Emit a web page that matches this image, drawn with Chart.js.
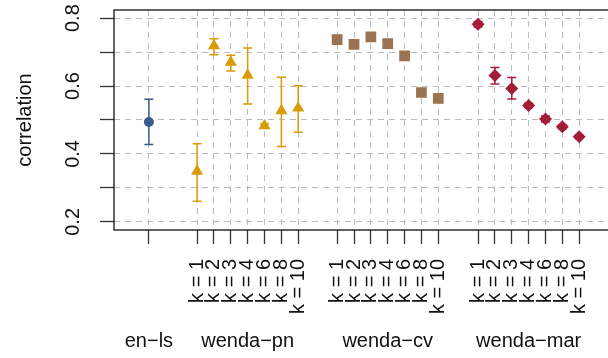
<!DOCTYPE html>
<html>
<head>
<meta charset="utf-8">
<script src="https://cdn.jsdelivr.net/npm/chart.js@4.4.0/dist/chart.umd.min.js"></script>
<style>
  html, body { margin: 0; padding: 0; background: #fff; overflow: hidden; }
  #wrap { width: 620px; height: 358px; }
</style>
</head>
<body>
<div id="wrap"><canvas id="corrChart" width="620" height="358"></canvas></div>
<script>
// methodes et valeurs de k
const groups = ["en\u2212ls", "wenda\u2212pn", "wenda\u2212cv", "wenda\u2212mar"];
const kValues = [1, 2, 3, 4, 6, 8, 10];

// correlation moyenne + bornes des barres d'erreur
const enlsMean = [0.494];
const enlsLow = [0.428];
const enlsHigh = [0.561];

const pnMean = [0.349, 0.719, 0.670, 0.632, 0.483, 0.527, 0.535];
const pnLow = [0.261, 0.692, 0.644, 0.547, 0.477, 0.422, 0.464];
const pnHigh = [0.430, 0.739, 0.691, 0.712, 0.489, 0.626, 0.601];

const cvMean = [0.737, 0.723, 0.745, 0.725, 0.689, 0.581, 0.564];
const cvLow = [0.732, 0.717, 0.740, 0.720, 0.683, 0.575, 0.559];
const cvHigh = [0.742, 0.729, 0.750, 0.730, 0.695, 0.587, 0.569];

const marMean = [0.782, 0.631, 0.593, 0.543, 0.503, 0.480, 0.451];
const marLow = [0.774, 0.606, 0.562, 0.537, 0.494, 0.474, 0.447];
const marHigh = [0.790, 0.655, 0.625, 0.549, 0.512, 0.486, 0.455];

const yGrid = [0.2, 0.3, 0.4, 0.5, 0.6, 0.7, 0.8];
const yLabels = ["0.2", "0.4", "0.6", "0.8"];
const kLabels = kValues.map((k) => "k = " + k);

// mise en page de l'axe x (debut de chaque groupe)
const groupStart = [0, 2.86, 11.17, 19.53];
const fontFamily = '"Liberation Sans", Arial, Helvetica, sans-serif';

function points(g, means) {
  return means.map((v, i) => ({ x: groupStart[g] + i, y: v }));
}

const xTicks = [];
const xTickLabels = [];
[enlsMean, pnMean, cvMean, marMean].forEach((means, g) => {
  means.forEach((v, i) => {
    xTicks.push(groupStart[g] + i);
    xTickLabels.push(g === 0 ? "" : kLabels[i]);
  });
});

// barres d'erreur, cadre et textes tournes
const decorations = {
  id: "decorations",
  beforeDatasetsDraw(chart) {
    const ctx = chart.ctx;
    const xs = chart.scales.x;
    const ys = chart.scales.y;
    chart.data.datasets.forEach((ds) => {
      ctx.save();
      ctx.strokeStyle = ds.borderColor;
      ctx.lineWidth = 1.5;
      ds.data.forEach((p, i) => {
        const px = xs.getPixelForValue(p.x);
        const top = ys.getPixelForValue(ds.high[i]);
        const bot = ys.getPixelForValue(ds.low[i]);
        ctx.beginPath();
        ctx.moveTo(px, top);
        ctx.lineTo(px, bot);
        ctx.moveTo(px - 4.5, top);
        ctx.lineTo(px + 4.5, top);
        ctx.moveTo(px - 4.5, bot);
        ctx.lineTo(px + 4.5, bot);
        ctx.stroke();
      });
      ctx.restore();
    });
  },
  afterDraw(chart) {
    const ctx = chart.ctx;
    const area = chart.chartArea;
    const xs = chart.scales.x;
    const ys = chart.scales.y;
    ctx.save();
    ctx.strokeStyle = "#222";
    ctx.lineWidth = 1.4;
    ctx.strokeRect(area.left, area.top, area.right - area.left, area.bottom - area.top);

    ctx.fillStyle = "#111";
    ctx.font = "20px " + fontFamily;
    ctx.textAlign = "center";
    ctx.textBaseline = "middle";
    yLabels.forEach((lab) => {
      const py = ys.getPixelForValue(parseFloat(lab));
      ctx.save();
      ctx.translate(73.5, py);
      ctx.rotate(-Math.PI / 2);
      ctx.fillText(lab, 0, 0);
      ctx.restore();
    });

    const groupMeans = [enlsMean, pnMean, cvMean, marMean];
    groups.forEach((name, g) => {
      const n = groupMeans[g].length;
      const cx = xs.getPixelForValue(groupStart[g] + (n - 1) / 2);
      ctx.fillText(name, cx, 341);
    });
    ctx.restore();
  },
};

new Chart(document.getElementById("corrChart"), {
  type: "scatter",
  data: {
    datasets: [
      {
        label: groups[0],
        data: points(0, enlsMean),
        low: enlsLow,
        high: enlsHigh,
        pointStyle: "circle",
        pointRadius: 5,
        backgroundColor: "#3d5a8c",
        borderColor: "#3d5a8c",
        borderWidth: 0,
      },
      {
        label: groups[1],
        data: points(1, pnMean),
        low: pnLow,
        high: pnHigh,
        pointStyle: "triangle",
        pointRadius: 7,
        backgroundColor: "#d99b06",
        borderColor: "#d99b06",
        borderWidth: 0,
      },
      {
        label: groups[2],
        data: points(2, cvMean),
        low: cvLow,
        high: cvHigh,
        pointStyle: "rect",
        pointRadius: 7.6,
        backgroundColor: "#9b7352",
        borderColor: "#9b7352",
        borderWidth: 0,
      },
      {
        label: groups[3],
        data: points(3, marMean),
        low: marLow,
        high: marHigh,
        pointStyle: "rectRot",
        pointRadius: 6.5,
        backgroundColor: "#a31d3b",
        borderColor: "#a31d3b",
        borderWidth: 0,
      },
    ],
  },
  options: {
    responsive: false,
    animation: false,
    events: [],
    layout: { padding: { left: 0, top: 10, right: 6, bottom: 0 } },
    plugins: {
      legend: { display: false },
      tooltip: { enabled: false },
    },
    scales: {
      x: {
        type: "linear",
        min: -2.07,
        max: 27.5,
        afterBuildTicks: (scale) => {
          scale.ticks = xTicks.map((v) => ({ value: v }));
        },
        afterFit: (scale) => {
          scale.height = 128;
        },
        ticks: {
          autoSkip: false,
          minRotation: 90,
          maxRotation: 90,
          padding: 15,
          color: "#111",
          font: { family: fontFamily, size: 20 },
          callback: (value, index) => xTickLabels[index],
        },
        grid: {
          color: "#bcbcbc",
          lineWidth: 1,
          tickLength: 14,
          tickColor: "#333",
          tickWidth: 1.3,
          tickBorderDash: [],
        },
        border: { display: false, dash: [6, 5] },
      },
      y: {
        min: 0.176,
        max: 0.824,
        afterBuildTicks: (scale) => {
          scale.ticks = yGrid.map((v) => ({ value: v }));
        },
        afterFit: (scale) => {
          scale.width = 114;
        },
        ticks: { display: false },
        title: {
          display: true,
          text: "correlation",
          color: "#111",
          font: { family: fontFamily, size: 20 },
          padding: { top: 13, bottom: 0 },
        },
        grid: {
          color: "#bcbcbc",
          lineWidth: 1,
          tickLength: 14,
          tickColor: "#333",
          tickWidth: 1.3,
          tickBorderDash: [],
        },
        border: { display: false, dash: [6, 5] },
      },
    },
  },
  plugins: [decorations],
});
</script>
</body>
</html>
